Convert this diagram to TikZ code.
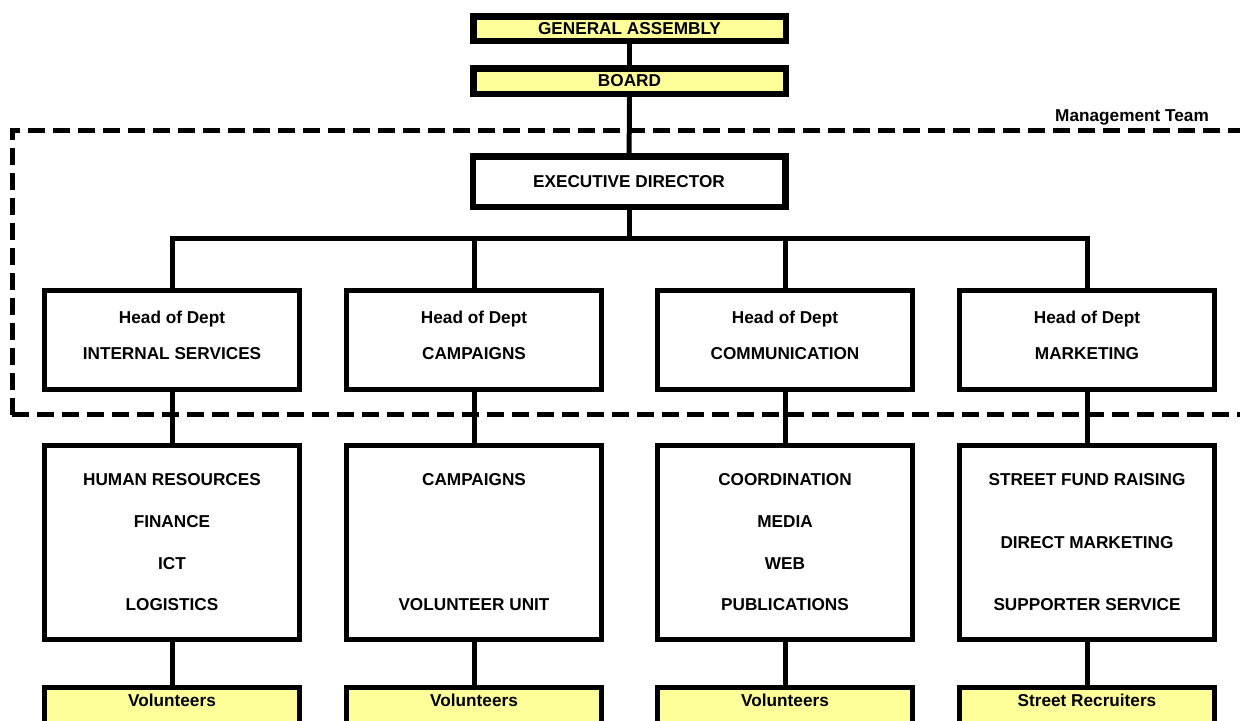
\documentclass[tikz,border=0pt]{standalone}
\usepackage{fontspec}
\setmainfont{Liberation Sans}
\definecolor{boxyellow}{RGB}{255,255,153}
\begin{document}
\begin{tikzpicture}[x=0.5pt, y=-0.5pt,
	every node/.style={text centered, align=center, inner sep=0pt, font=\fontsize{8.6}{10}\selectfont\bfseries},
	topbox/.style={rectangle, draw, line width=3.25pt, minimum width=156.25pt},
	headbox/.style={rectangle, draw, line width=2.5pt, minimum width=127.5pt, minimum height=49.5pt, text depth=5pt, font=\fontsize{8.6}{18}\selectfont\bfseries},
	unitbox/.style={rectangle, draw, line width=2.5pt, minimum width=127.5pt, minimum height=97pt, font=\fontsize{8.6}{20.85}\selectfont\bfseries},
	staffbox/.style={rectangle, draw, line width=2.5pt, minimum width=127.5pt, fill=boxyellow, anchor=north, text height=9.8pt, text depth=20pt},
	link/.style={line width=2.5pt}]
	\clip (0,0) rectangle (1240,720);

	% top of the organisation
	\node[topbox, fill=boxyellow, minimum height=12.25pt] (ga) at (629.5, 28.5) {GENERAL ASSEMBLY};
	\node[topbox, fill=boxyellow, minimum height=12.75pt] (board) at (629.5, 81) {BOARD};
	\node[topbox, minimum height=25.25pt] (ed) at (629, 181.5) {EXECUTIVE DIRECTOR};
	\coordinate (bus) at (629, 238);

	% heads of department
	\node[headbox] (headint) at (172, 340) {Head of Dept\\INTERNAL SERVICES};
	\node[headbox] (headcamp) at (474, 340) {Head of Dept\\CAMPAIGNS};
	\node[headbox] (headcomm) at (785, 340) {Head of Dept\\COMMUNICATION};
	\node[headbox] (headmkt) at (1087, 340) {Head of Dept\\MARKETING};

	% units
	\node[unitbox] (unitint) at (172, 542.5) {HUMAN RESOURCES\\FINANCE\\ICT\\LOGISTICS};
	\node[unitbox, font=\fontsize{8.6}{62.5}\selectfont\bfseries] (unitcamp) at (474, 542.5) {CAMPAIGNS\\VOLUNTEER UNIT};
	\node[unitbox] (unitcomm) at (785, 542.5) {COORDINATION\\MEDIA\\WEB\\PUBLICATIONS};
	\node[unitbox, font=\fontsize{8.6}{31.25}\selectfont\bfseries] (unitmkt) at (1087, 542.5) {STREET FUND RAISING\\DIRECT MARKETING\\SUPPORTER SERVICE};

	% volunteers
	\node[staffbox] (volint) at (172, 684.5) {Volunteers};
	\node[staffbox] (volcamp) at (474, 684.5) {Volunteers};
	\node[staffbox] (volcomm) at (785, 684.5) {Volunteers};
	\node[staffbox] (volmkt) at (1087, 684.5) {Street Recruiters};

	% connectors
	\draw[link] (ga) -- (board);
	\draw[link] (board) -- (ed);
	\draw[link] (ed) -- (bus);
	\draw[link] (headint.north) |- (bus) -| (headmkt.north);
	\draw[link] (headcamp.north) -- (headcamp.north |- bus);
	\draw[link] (headcomm.north) -- (headcomm.north |- bus);
	\foreach \dept in {int, camp, comm, mkt} {
		\draw[link] (head\dept) -- (unit\dept);
		\draw[link] (unit\dept) -- (vol\dept);
	}

	% management team
	\draw[line width=2.5pt, dash pattern=on 8.3pt off 4.2pt] (12, 414.5) -- (12, 130.5) -- (1260, 130.5) (12, 414.5) -- (1260, 414.5);
	\node (mgmt) at (1132, 117) {Management Team};
\end{tikzpicture}
\end{document}
